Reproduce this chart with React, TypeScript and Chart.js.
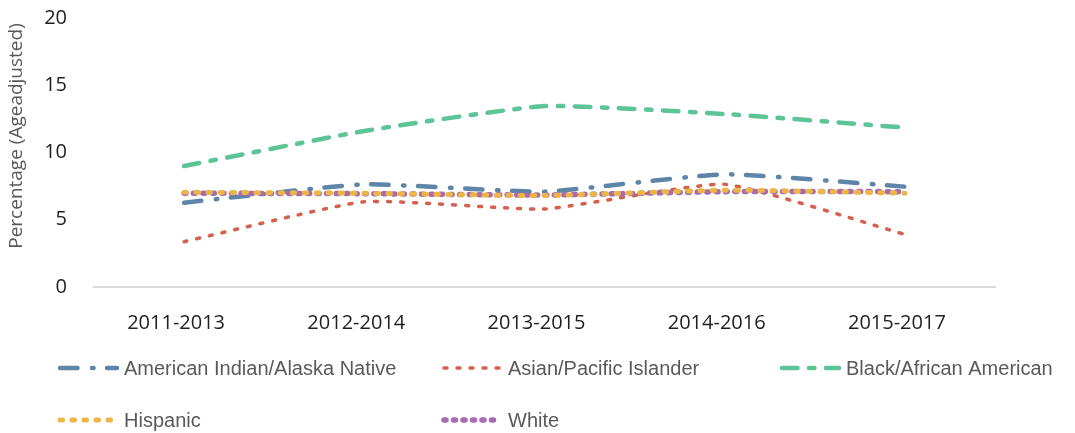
import React, { useEffect, useRef } from "react";
import { Chart, registerables } from "chart.js";

Chart.register(...registerables);

const categories = ["2011-2013", "2012-2014", "2013-2015", "2014-2016", "2015-2017"];
const aianValues = [6.27, 7.63, 7.09, 8.38, 7.46];
const apiValues = [3.37, 6.34, 5.8, 7.63, 3.91];
const blackValues = [9.0, 11.6, 13.45, 12.86, 11.85];
const hispanicValues = [7.04, 6.97, 6.8, 7.2, 6.97];
const whiteValues = [6.97, 6.94, 6.84, 7.09, 7.09];
const seriesLabels = [
  "American Indian/Alaska Native",
  "Asian/Pacific Islander",
  "Black/African American",
  "Hispanic",
  "White",
];
const yTitle = "Percentage (Ageadjusted)";

const LEGEND_COL_X = [58, 442, 780];
const LEGEND_ROW_Y = [368, 420];

const gridLegend = {
  id: "gridLegend",
  afterDraw(chart: any) {
    const ctx = chart.ctx as CanvasRenderingContext2D;
    chart.data.datasets.forEach((ds: any, i: number) => {
      const col = i % 3;
      const row = Math.floor(i / 3);
      const x = LEGEND_COL_X[col];
      const y = LEGEND_ROW_Y[row];
      ctx.save();
      ctx.strokeStyle = ds.borderColor;
      ctx.lineWidth = ds.borderWidth;
      ctx.lineCap = "round";
      ctx.setLineDash(ds.borderDash || []);
      ctx.beginPath();
      ctx.moveTo(x + 2, y);
      ctx.lineTo(x + 59, y);
      ctx.stroke();
      ctx.setLineDash([]);
      ctx.fillStyle = "#595959";
      ctx.font = '20px "Liberation Sans", Arial, sans-serif';
      ctx.textBaseline = "middle";
      ctx.textAlign = "left";
      ctx.fillText(ds.label, x + 66, y + 1);
      ctx.restore();
    });
    // y axis title
    ctx.save();
    ctx.translate(17, 136);
    ctx.rotate(-Math.PI / 2);
    ctx.fillStyle = "#595959";
    ctx.font = '19px "Open Sans", sans-serif';
    ctx.textAlign = "center";
    ctx.textBaseline = "middle";
    ctx.fillText(yTitle, 0, 0);
    ctx.restore();
  },
};

export default function App() {
  const ref = useRef<HTMLCanvasElement>(null);

  useEffect(() => {
    if (!ref.current) return;
    const common = { fill: false, pointRadius: 0, pointHoverRadius: 0, tension: 0.15, borderCapStyle: "round" as const, borderJoinStyle: "round" as const };
    const chart = new Chart(ref.current, {
      type: "line",
      data: {
        labels: categories,
        datasets: [
          { ...common, label: seriesLabels[0], data: aianValues, borderColor: "#5e84a8", borderWidth: 4.5, borderDash: [17.5, 14.5, 1.5, 13.5], order: 2 },
          { ...common, label: seriesLabels[1], data: apiValues, borderColor: "#d5604b", borderWidth: 3.5, borderDash: [3, 10], order: 4 },
          { ...common, label: seriesLabels[2], data: blackValues, borderColor: "#5cc497", borderWidth: 4.5, borderDash: [15.5, 11.5, 5.5, 11.5], order: 3 },
          { ...common, label: seriesLabels[3], data: hispanicValues, borderColor: "#ecb545", borderWidth: 5, borderDash: [2.5, 9.5], order: 0 },
          { ...common, label: seriesLabels[4], data: whiteValues, borderColor: "#a76bb4", borderWidth: 5.5, borderDash: [2, 7.5], order: 1 },
        ],
      },
      options: {
        responsive: false,
        animation: false,
        devicePixelRatio: 1,
        layout: { padding: { top: 18, right: 80, bottom: 0, left: 0 } },
        plugins: {
          legend: { display: false },
          tooltip: { enabled: false },
          title: { display: false },
        },
        scales: {
          x: {
            offset: true,
            grid: { display: false, drawTicks: false },
            border: { display: true, color: "#d9d9d9", width: 2 },
            ticks: {
              color: "#1f1f1f",
              font: { family: '"Open Sans", sans-serif', size: 20 },
              padding: 24,
              labelOffset: -8,
              maxRotation: 0,
              autoSkip: false,
            },
            afterFit(scale: any) {
              scale.height = 146;
              scale.paddingLeft = 0;
              scale.paddingRight = 0;
            },
          },
          y: {
            min: 0,
            max: 20,
            grid: { display: false, drawTicks: false },
            border: { display: false },
            ticks: {
              stepSize: 5,
              color: "#1f1f1f",
              font: { family: '"Open Sans", sans-serif', size: 20 },
              padding: 27,
            },
            afterFit(scale: any) {
              scale.width = 94;
              scale.paddingTop = 0;
              scale.paddingBottom = 0;
            },
          },
        },
      },
      plugins: [gridLegend],
    });
    return () => chart.destroy();
  }, []);

  return (
    <div style={{ position: "absolute", left: 0, top: 0, width: 1075, height: 433, background: "#fff" }}>
      <canvas ref={ref} width={1075} height={433} style={{ display: "block" }} />
    </div>
  );
}
